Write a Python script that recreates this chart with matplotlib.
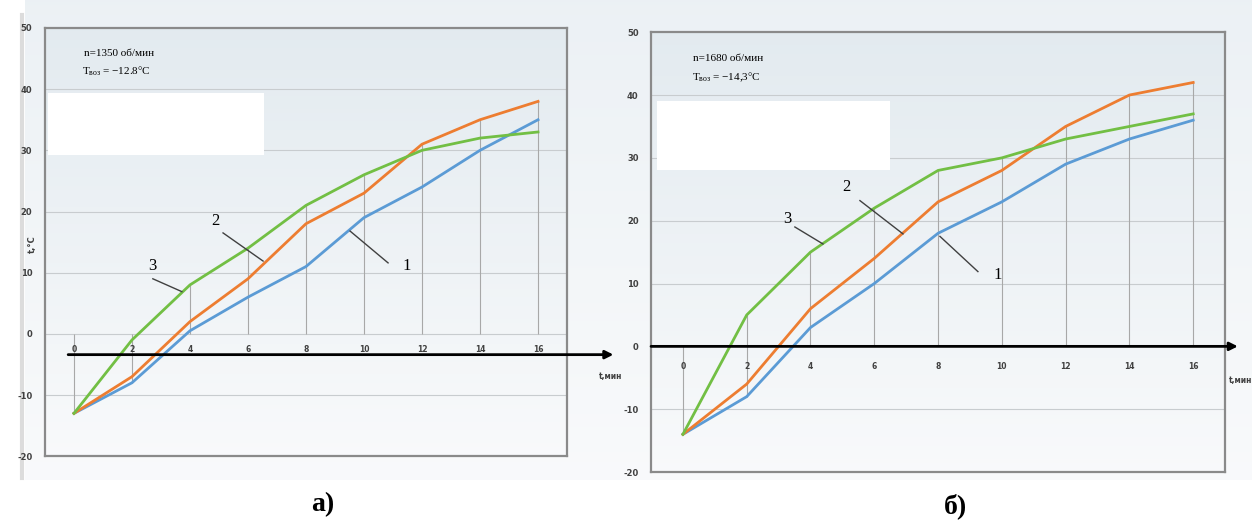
import numpy as np
import matplotlib.pyplot as plt

plt.rcParams['mathtext.fontset'] = 'custom'
plt.rcParams['mathtext.rm'] = 'Liberation Serif'

# time, min
t = [0, 2, 4, 6, 8, 10, 12, 14, 16]

# panel a) n=1350 rpm
a_1 = [-13, -8, 0.5, 6, 11, 19, 24, 30, 35]
a_2 = [-13, -7, 2, 9, 18, 23, 31, 35, 38]
a_3 = [-13, -1, 8, 14, 21, 26, 30, 32, 33]

# panel b) n=1680 rpm
b_1 = [-14, -8, 3, 10, 18, 23, 29, 33, 36]
b_2 = [-14, -6, 6, 14, 23, 28, 35, 40, 42]
b_3 = [-14, 5, 15, 22, 28, 30, 33, 35, 37]

y_ticks = [-20, -10, 0, 10, 20, 30, 40, 50]
colors = ['#5b9bd5', '#ed7d31', '#72bf44']
serif = 'Liberation Serif'

fig = plt.figure(figsize=(12.52, 5.28), dpi=100)

# faded background picture (pixel grid, top row first)
bg = fig.add_axes([0, 0, 1, 1], zorder=-10)
bg.set_axis_off()
rows = np.linspace(0, 1, 528).reshape(-1, 1) * np.ones((1, 1252))
cols = np.ones((528, 1)) * np.arange(1252).reshape(1, -1)
top = np.array([0.925, 0.945, 0.96])
bot = np.array([0.975, 0.98, 0.985])
f = np.clip(rows / 0.9, 0, 1)[..., None]
img = top * (1 - f) + bot * f
mask = (rows > 0.91) | (cols < 25)
img[mask] = 1.0
bg.imshow(img, extent=[0, 1252, 528, 0], aspect='auto')
bg.set_xlim(0, 1252)
bg.set_ylim(528, 0)
bg.plot([22, 22], [15, 478], color='#dcdcdc', lw=3)


def panel(ax, s1, s2, s3, n_text, t_text, xlab, arrow_x, axis_y, tick_y, box, notes):
    ax.set_xlim(-1, 17)
    ax.set_ylim(-20, 50)
    g = np.linspace(0, 1, 100)[:, None, None]
    c_top = np.array([0.89, 0.92, 0.94])
    c_bot = np.array([0.975, 0.98, 0.985])
    ax.imshow(c_top * (1 - g) + c_bot * g, extent=[-1, 17, -20, 50],
              aspect='auto', zorder=0)
    for y in [-10, 0, 10, 20, 30, 40]:
        ax.axhline(y, color='#c8cccf', lw=0.8, zorder=1)
    for i, x in enumerate(t):
        vals = [s1[i], s2[i], s3[i], 0]
        ax.vlines(x, min(vals), max(vals), color='#a8a8a8', lw=0.8, zorder=1)
    for s, c in zip([s1, s2, s3], colors):
        ax.plot(t, s, color=c, lw=2.0, zorder=3)
    ax.set_yticks(y_ticks)
    ax.set_yticklabels([str(v) for v in y_ticks], fontsize=6, fontweight='bold', color='#404040')
    ax.tick_params(axis='y', length=0, pad=9)
    ax.set_xticks([])
    for sp in ax.spines.values():
        sp.set_color('#8a8a8a')
        sp.set_linewidth(1.6)
    # black time axis with arrow
    ax.annotate('', xy=(arrow_x[1], axis_y), xytext=(arrow_x[0], axis_y),
                arrowprops=dict(arrowstyle='-|>', color='black', lw=2.0,
                                mutation_scale=12, shrinkA=0, shrinkB=0),
                annotation_clip=False, zorder=4)
    for x in t:
        ax.text(x, tick_y, str(x), ha='center', va='center', fontsize=5.5,
                fontweight='bold', color='#404040', zorder=5)
    ax.text(xlab[0], xlab[1], 't,мин', ha='center', va='center', fontsize=5.5,
            fontweight='bold', color='#404040', clip_on=False)
    # white box
    ax.add_patch(plt.Rectangle(box[0], box[1], box[2],
                               facecolor='white', edgecolor='none', zorder=2))
    ax.text(0.33, 45.8, n_text, fontsize=8, family=serif, va='center', zorder=5)
    ax.text(0.28, 42.9, t_text, fontsize=8, family=serif, va='center', zorder=5)
    for lab, tx, ty, x0, y0, x1, y1 in notes:
        ax.plot([x0, x1], [y0, y1], color='#404040', lw=1.0, zorder=4)
        ax.text(tx, ty, lab, fontsize=12, family=serif, ha='center', va='center', zorder=5)


ax1 = fig.add_axes([0.0359, 0.136, 0.417, 0.811])
panel(ax1, a_1, a_2, a_3, 'n=1350 об/мин', r'T$_{\mathrm{воз}}$ = −12.8°C',
      (18.5, -7.0), (-0.2, 18.6), -3.4, -2.6, ((-0.9, 29.2), 7.45, 10.2),
      [('2', 4.86, 18.5, 5.14, 16.5, 6.52, 11.9),
       ('3', 2.69, 11.1, 2.72, 9.0, 3.72, 6.9),
       ('1', 11.48, 11.1, 10.83, 11.6, 9.52, 16.8)])
ax1.text(-1.45, 14.7, 't,°C', rotation=90, ha='center', va='center', fontsize=6,
         fontweight='bold', color='#404040', clip_on=False)

ax2 = fig.add_axes([0.520, 0.106, 0.4585, 0.833])
panel(ax2, b_1, b_2, b_3, 'n=1680 об/мин', r'T$_{\mathrm{воз}}$ = −14,3°C',
      (17.5, -5.4), (-1.0, 17.4), 0, -3.2, ((-0.8, 28.1), 7.3, 10.9),
      [('3', 3.26, 20.2, 3.51, 19.0, 4.39, 16.3),
       ('2', 5.14, 25.4, 5.55, 23.2, 6.9, 17.9),
       ('1', 9.87, 11.3, 9.25, 11.9, 8.06, 17.5)])

fig.text(323 / 1252, 1 - 505 / 528, 'а)', fontsize=20, fontweight='bold', family=serif,
         ha='center', va='center')
fig.text(955 / 1252, 1 - 506 / 528, 'б)', fontsize=20, fontweight='bold', family=serif,
         ha='center', va='center')

fig.savefig('out.png', dpi=100)
